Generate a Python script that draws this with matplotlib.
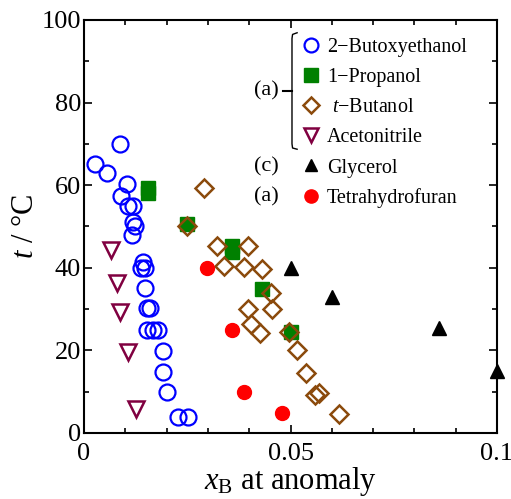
import matplotlib
matplotlib.use('Agg')
import matplotlib.pyplot as plt
import numpy as np
from matplotlib.lines import Line2D

plt.rcParams['font.family'] = 'Liberation Serif'
plt.rcParams['mathtext.fontset'] = 'custom'
plt.rcParams['mathtext.rm'] = 'Liberation Serif'
plt.rcParams['mathtext.it'] = 'Liberation Serif:italic'

# 2-Butoxyethanol
bx = [0.0087, 0.0027, 0.0055, 0.0103, 0.0090, 0.0107, 0.0118, 0.0118, 0.0123, 0.0115,
      0.0144, 0.0138, 0.0148, 0.0148, 0.0152, 0.0160, 0.0152, 0.0168, 0.0178,
      0.0192, 0.0192, 0.0202, 0.0228, 0.0253]
bt = [70.0, 65.1, 62.9, 60.2, 57.4, 55.0, 55.0, 51.2, 50.1, 48.0,
      41.5, 39.9, 39.9, 35.0, 30.2, 30.2, 24.9, 24.9, 24.9,
      19.9, 14.8, 9.9, 3.8, 3.8]
# 1-Propanol
px = [0.0156, 0.0156, 0.0250, 0.0358, 0.0358, 0.0430, 0.0500]
pt = [59.4, 58.0, 50.6, 45.3, 43.7, 34.8, 24.5]
# t-Butanol
tx = [0.0290, 0.0249, 0.0321, 0.0398, 0.0339, 0.0387, 0.0430, 0.0452, 0.0398, 0.0454,
      0.0404, 0.0425, 0.0497, 0.0516, 0.0538, 0.0559, 0.0570, 0.0617]
tt = [59.2, 50.1, 45.3, 45.3, 40.5, 40.3, 39.7, 34.0, 29.9, 29.9,
      26.4, 24.3, 24.4, 20.1, 14.6, 9.2, 9.6, 4.6]
# Acetonitrile
ax_ = [0.0065, 0.0079, 0.0087, 0.0107, 0.0126]
at = [44.3, 36.4, 29.4, 19.7, 5.7]
# Glycerol
gx = [0.0500, 0.0600, 0.0860, 0.1000]
gt = [40.0, 33.0, 25.3, 15.1]
# Tetrahydrofuran
hx = [0.0297, 0.0359, 0.0388, 0.0479]
ht = [39.9, 24.9, 9.9, 4.9]

blue = '#0000ff'
green = '#008000'
brown = '#8b4a0c'
maroon = '#800040'

fig = plt.figure(figsize=(5.11, 4.99), dpi=100)
ax = fig.add_axes([0.1644, 0.1323, 0.8082, 0.8277])

ax.plot(bx, bt, 'o', mfc='none', mec=blue, mew=1.6, ms=11.5, ls='none', clip_on=False)
ax.plot(px, pt, 's', mfc=green, mec=green, ms=10.5, ls='none', clip_on=False)
ax.plot(tx, tt, 'D', mfc='none', mec=brown, mew=1.8, ms=9, ls='none', clip_on=False)
ax.plot(ax_, at, 'v', mfc='none', mec=maroon, mew=1.8, ms=11, ls='none', clip_on=False)
ax.plot(gx, gt, '^', color='black', ms=10, ls='none', clip_on=False)
ax.plot(hx, ht, 'o', color='red', ms=10, ls='none', clip_on=False)

ax.set_xlim(0, 0.1)
ax.set_ylim(0, 100)
ax.set_xticks([0, 0.05, 0.1])
ax.set_xticklabels(['0', '0.05', '0.1'])
ax.set_xticks(np.arange(0, 0.1001, 0.01), minor=True)
ax.set_yticks(np.arange(0, 101, 20))
ax.set_yticks(np.arange(0, 101, 10), minor=True)
ax.tick_params(which='both', direction='in', top=True, right=True, labelsize=19, width=1.2)
ax.tick_params(which='major', length=6)
ax.tick_params(which='minor', length=3.5)
ax.tick_params(axis='y', pad=2)
ax.tick_params(axis='x', pad=7)
for s in ax.spines.values():
    s.set_linewidth(1.5)

ax.set_xlabel(r'$x_{\rm B}$ at anomaly', fontsize=22, labelpad=0)
ax.set_ylabel(r'$t$ / °C', fontsize=22, labelpad=1)

handles = [
    Line2D([], [], marker='o', mfc='none', mec=blue, mew=1.6, ms=10, ls='none'),
    Line2D([], [], marker='s', mfc=green, mec=green, ms=9.5, ls='none'),
    Line2D([], [], marker='D', mfc='none', mec=brown, mew=1.8, ms=8, ls='none'),
    Line2D([], [], marker='v', mfc='none', mec=maroon, mew=1.8, ms=10, ls='none'),
    Line2D([], [], marker='^', color='black', ms=9, ls='none'),
    Line2D([], [], marker='o', color='red', ms=9.5, ls='none'),
]
labels = ['2−Butoxyethanol', '1−Propanol', r' $t$−Butanol', 'Acetonitrile',
          'Glycerol', 'Tetrahydrofuran']
ax.legend(handles, labels, loc='upper left', bbox_to_anchor=(0.52, 0.957),
          frameon=False, fontsize=14.5, labelspacing=0.55, handletextpad=0.2,
          handlelength=1.2, borderpad=0, borderaxespad=0)

# bracket and group labels
tr = ax.transAxes
ax.plot([0.516, 0.505, 0.5036, 0.5036, 0.505, 0.516],
        [0.969, 0.965, 0.955, 0.700, 0.690, 0.687],
        color='black', lw=1.0, transform=tr, clip_on=False)
ax.plot([0.483, 0.5036], [0.828, 0.828], color='black', lw=1.5, transform=tr)
ax.text(0.472, 0.828, '(a)', transform=tr, fontsize=16, ha='right', va='center')
ax.text(0.472, 0.644, '(c)', transform=tr, fontsize=16, ha='right', va='center')
ax.text(0.472, 0.571, '(a)', transform=tr, fontsize=16, ha='right', va='center')

fig.savefig('out.png', dpi=100)
